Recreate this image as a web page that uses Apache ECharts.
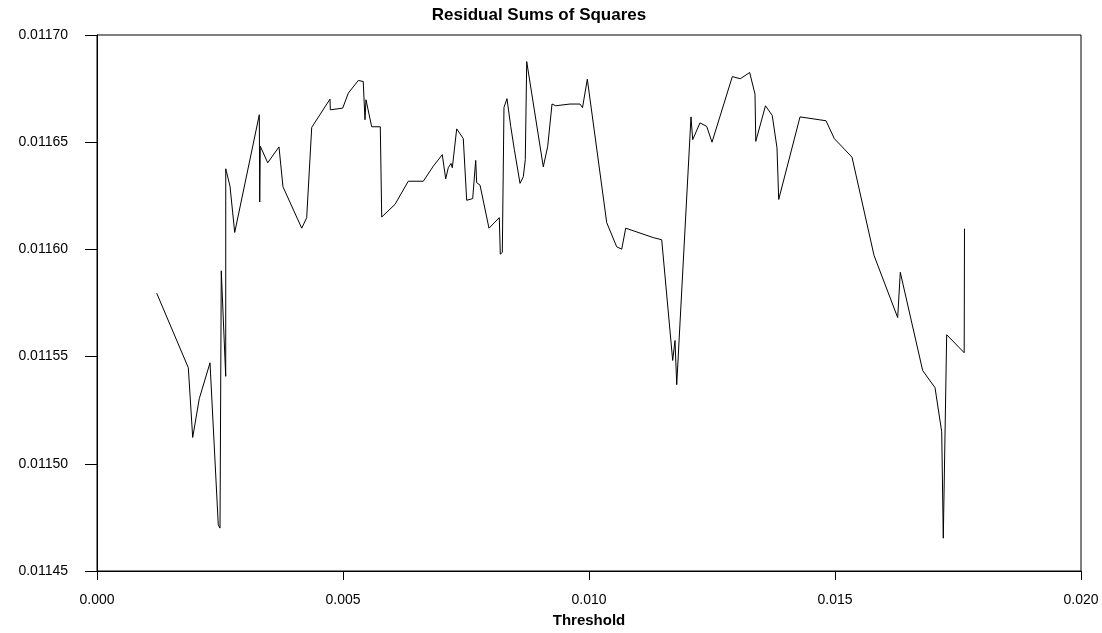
<!DOCTYPE html>
<html>
<head>
<meta charset="utf-8">
<script src="https://cdn.jsdelivr.net/npm/echarts@6/dist/echarts.min.js"></script>
<style>
html,body{margin:0;padding:0;background:#fff;}
#chart{width:1102px;height:633px;}
</style>
</head>
<body>
<div id="chart"></div>
<script>
const titleText = 'Residual Sums of Squares';
const xAxisName = 'Threshold';
const xTicks = [0.000, 0.005, 0.010, 0.015, 0.020];
const yTicks = [0.01145, 0.01150, 0.01155, 0.01160, 0.01165, 0.01170];

const threshold = [
  0.001213, 0.001856, 0.001945, 0.002079, 0.002297, 0.002465, 0.002500, 0.002526, 0.002616, 0.002617,
  0.002703, 0.002799, 0.003299, 0.003307, 0.003319, 0.003470, 0.003699, 0.003780, 0.004161, 0.004262,
  0.004364, 0.004736, 0.004742, 0.004994, 0.005108, 0.005311, 0.005411, 0.005447, 0.005467, 0.005583,
  0.005758, 0.005787, 0.006057, 0.006327, 0.006632, 0.006835, 0.007018, 0.007087, 0.007140, 0.007195,
  0.007222, 0.007256, 0.007311, 0.007445, 0.007514, 0.007636, 0.007697, 0.007717, 0.007785, 0.007967,
  0.008177, 0.008197, 0.008238, 0.008272, 0.008333, 0.008409, 0.008482, 0.008598, 0.008665, 0.008705,
  0.008734, 0.009071, 0.009161, 0.009248, 0.009323, 0.009614, 0.009817, 0.009868, 0.009966, 0.010360,
  0.010563, 0.010665, 0.010746, 0.011307, 0.011478, 0.011701, 0.011748, 0.011783, 0.012073, 0.012108,
  0.012256, 0.012392, 0.012500, 0.012913, 0.013075, 0.013266, 0.013374, 0.013390, 0.013587, 0.013724,
  0.013821, 0.013856, 0.014289, 0.014817, 0.014986, 0.015346, 0.015793, 0.016274, 0.016327, 0.016782,
  0.017033, 0.017169, 0.017201, 0.017230, 0.017270, 0.017626, 0.017632
];
const rss = [
  0.0115796, 0.0115448, 0.0115123, 0.0115304, 0.0115471, 0.0114715, 0.0114700, 0.0115900, 0.0115408, 0.0116376,
  0.0116295, 0.0116079, 0.0116628, 0.0116221, 0.0116481, 0.0116404, 0.0116478, 0.0116292, 0.0116099, 0.0116148,
  0.0116569, 0.0116701, 0.0116651, 0.0116659, 0.0116729, 0.0116788, 0.0116783, 0.0116605, 0.0116698, 0.0116572,
  0.0116572, 0.0116151, 0.0116210, 0.0116318, 0.0116318, 0.0116388, 0.0116442, 0.0116329, 0.0116381, 0.0116401,
  0.0116381, 0.0116383, 0.0116562, 0.0116517, 0.0116229, 0.0116237, 0.0116415, 0.0116311, 0.0116300, 0.0116099,
  0.0116148, 0.0115978, 0.0115986, 0.0116662, 0.0116703, 0.0116574, 0.0116466, 0.0116308, 0.0116339, 0.0116419,
  0.0116876, 0.0116385, 0.0116481, 0.0116678, 0.0116670, 0.0116678, 0.0116678, 0.0116661, 0.0116794, 0.0116125,
  0.0116012, 0.0116001, 0.0116099, 0.0116055, 0.0116045, 0.0115482, 0.0115575, 0.0115369, 0.0116618, 0.0116512,
  0.0116590, 0.0116574, 0.0116500, 0.0116806, 0.0116796, 0.0116825, 0.0116724, 0.0116504, 0.0116670, 0.0116625,
  0.0116474, 0.0116233, 0.0116618, 0.0116600, 0.0116517, 0.0116430, 0.0115972, 0.0115682, 0.0115893, 0.0115435,
  0.0115355, 0.0115149, 0.0114653, 0.0114650, 0.0115602, 0.0115518, 0.0116097
];

const points = threshold.map((t, i) => [t, rss[i]]);
const font = '"Liberation Sans", Arial, sans-serif';

const chart = echarts.init(document.getElementById('chart'), null, {renderer: 'canvas'});
chart.setOption({
  animation: false,
  backgroundColor: '#ffffff',
  title: {
    text: titleText,
    left: 534,
    textAlign: 'center',
    top: 2,
    textStyle: {fontFamily: font, fontWeight: 'bold', fontSize: 17, color: '#000'}
  },
  grid: {
    left: 97, right: 21, top: 35, bottom: 60,
    show: true, borderColor: '#000', borderWidth: 1, backgroundColor: 'transparent'
  },
  xAxis: {
    type: 'value',
    min: xTicks[0], max: xTicks[xTicks.length - 1], interval: 0.005,
    name: xAxisName, nameLocation: 'middle', nameGap: 42,
    nameTextStyle: {fontFamily: font, fontWeight: 'bold', fontSize: 15, color: '#000'},
    axisLine: {show: true, lineStyle: {color: '#000', width: 1}},
    axisTick: {show: true, length: 9, lineStyle: {color: '#000'}},
    axisLabel: {margin: 22, fontFamily: font, fontSize: 14, color: '#000',
      formatter: v => v.toFixed(3)},
    splitLine: {show: false}
  },
  yAxis: {
    type: 'value',
    min: yTicks[0], max: yTicks[yTicks.length - 1], interval: 0.00005,
    axisLine: {show: true, lineStyle: {color: '#000', width: 1}},
    axisTick: {show: true, length: 12, lineStyle: {color: '#000'}},
    axisLabel: {margin: 29, fontFamily: font, fontSize: 14, color: '#000',
      formatter: v => v.toFixed(5)},
    splitLine: {show: false}
  },
  series: [{
    type: 'line',
    data: points,
    showSymbol: false,
    symbol: 'none',
    lineStyle: {color: '#000', width: 1},
    silent: true
  }]
});
</script>
</body>
</html>
